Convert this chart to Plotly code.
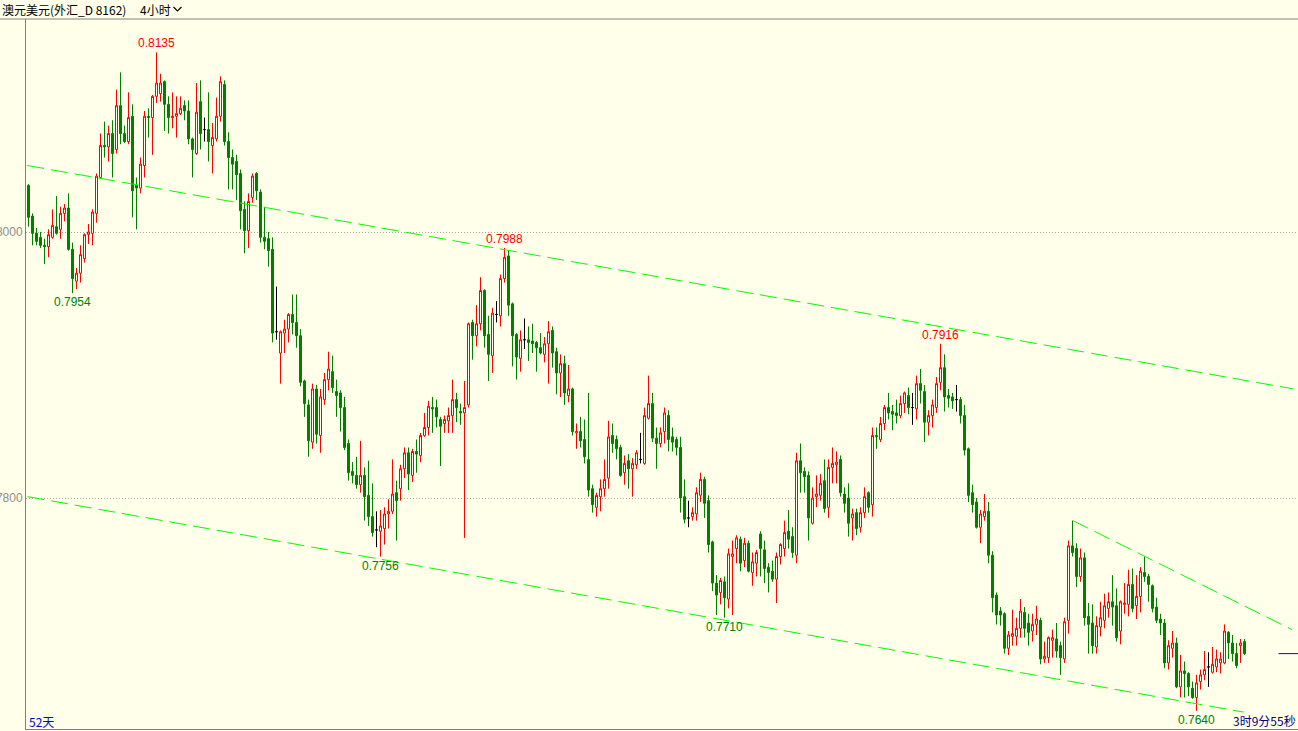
import plotly.graph_objects as go

# ---------------- data (AUD/USD, 4-hour candles) ----------------
opens = [0.8035,0.8012,0.7999,0.7996,0.7990,0.7989,0.7996,0.8004,0.8002,0.8014,
0.8018,0.7987,0.7963,0.7969,0.7980,0.7998,0.7999,0.8014,0.8041,0.8065,
0.8064,0.8074,0.8062,0.8095,0.8074,0.8068,0.8087,0.8035,0.8033,0.8050,
0.8087,0.8086,0.8102,0.8104,0.8113,0.8096,0.8086,0.8087,0.8089,0.8095,
0.8091,0.8070,0.8059,0.8098,0.8077,0.8077,0.8065,0.8070,0.8087,0.8111,
0.8068,0.8056,0.8053,0.8044,0.8017,0.8001,0.8026,0.8044,0.8030,0.7996,
0.7995,0.7987,0.7925,0.7909,0.7924,0.7927,0.7938,0.7932,0.7922,0.7888,
0.7870,0.7842,0.7882,0.7847,0.7874,0.7889,0.7895,0.7880,0.7879,0.7868,
0.7841,0.7820,0.7817,0.7810,0.7817,0.7802,0.7786,0.7776,0.7775,0.7777,
0.7788,0.7790,0.7804,0.7807,0.7822,0.7834,0.7817,0.7835,0.7832,0.7847,
0.7853,0.7868,0.7868,0.7859,0.7856,0.7858,0.7862,0.7874,0.7865,0.7864,
0.7870,0.7932,0.7922,0.7931,0.7956,0.7923,0.7907,0.7938,0.7937,0.7965,
0.7982,0.7946,0.7923,0.7905,0.7919,0.7919,0.7918,0.7917,0.7913,0.7908,
0.7916,0.7926,0.7910,0.7894,0.7901,0.7877,0.7882,0.7849,0.7850,0.7844,
0.7829,0.7807,0.7793,0.7801,0.7807,0.7815,0.7847,0.7844,0.7838,0.7819,
0.7828,0.7822,0.7825,0.7829,0.7826,0.7860,0.7871,0.7845,0.7841,0.7850,
0.7862,0.7846,0.7844,0.7838,0.7801,0.7785,0.7786,0.7788,0.7802,0.7814,
0.7798,0.7767,0.7736,0.7729,0.7737,0.7724,0.7756,0.7762,0.7769,0.7753,
0.7766,0.7744,0.7751,0.7773,0.7761,0.7748,0.7745,0.7739,0.7756,0.7762,
0.7775,0.7771,0.7757,0.7828,0.7820,0.7817,0.7781,0.7801,0.7802,0.7813,
0.7793,0.7823,0.7825,0.7829,0.7803,0.7800,0.7785,0.7789,0.7778,0.7789,
0.7804,0.7795,0.7847,0.7844,0.7856,0.7868,0.7865,0.7864,0.7862,0.7871,
0.7877,0.7868,0.7867,0.7886,0.7880,0.7857,0.7862,0.7868,0.7887,0.7898,
0.7877,0.7876,0.7874,0.7874,0.7862,0.7837,0.7804,0.7797,0.7778,0.7786,
0.7790,0.7757,0.7727,0.7715,0.7713,0.7687,0.7696,0.7696,0.7702,0.7714,
0.7706,0.7700,0.7705,0.7708,0.7679,0.7680,0.7693,0.7694,0.7689,0.7679,
0.7708,0.7764,0.7762,0.7741,0.7755,0.7711,0.7706,0.7688,0.7703,0.7708,
0.7717,0.7722,0.7719,0.7700,0.7720,0.7720,0.7735,0.7719,0.7726,0.7744,
0.7741,0.7734,0.7718,0.7709,0.7706,0.7676,0.7687,0.7691,0.7658,0.7670,
0.7668,0.7657,0.7650,0.7662,0.7667,0.7673,0.7669,0.7673,0.7676,0.7676,
0.7699,0.7691,0.7683,0.7689,0.7692]

highs = [0.8036,0.8014,0.8003,0.8000,0.7995,0.8002,0.8017,0.8027,0.8019,0.8021,
0.8029,0.7992,0.7973,0.7990,0.7999,0.8006,0.8017,0.8044,0.8074,0.8083,
0.8080,0.8084,0.8107,0.8120,0.8080,0.8105,0.8096,0.8041,0.8056,0.8091,
0.8093,0.8103,0.8135,0.8119,0.8114,0.8102,0.8105,0.8102,0.8102,0.8099,
0.8099,0.8071,0.8112,0.8114,0.8086,0.8105,0.8082,0.8101,0.8117,0.8114,
0.8075,0.8062,0.8058,0.8047,0.8023,0.8029,0.8044,0.8045,0.8032,0.8019,
0.8000,0.7996,0.7959,0.7926,0.7934,0.7939,0.7953,0.7953,0.7927,0.7889,
0.7874,0.7886,0.7885,0.7882,0.7894,0.7910,0.7907,0.7889,0.7881,0.7876,
0.7844,0.7827,0.7831,0.7843,0.7823,0.7828,0.7811,0.7790,0.7791,0.7793,
0.7799,0.7829,0.7813,0.7825,0.7838,0.7838,0.7837,0.7844,0.7849,0.7864,
0.7873,0.7876,0.7874,0.7861,0.7862,0.7868,0.7889,0.7879,0.7871,0.7888,
0.7932,0.7934,0.7945,0.7966,0.7957,0.7937,0.7943,0.7948,0.7968,0.7988,
0.7986,0.7947,0.7924,0.7926,0.7935,0.7929,0.7931,0.7918,0.7924,0.7921,
0.7933,0.7929,0.7913,0.7908,0.7907,0.7900,0.7883,0.7856,0.7861,0.7859,
0.7879,0.7810,0.7804,0.7814,0.7829,0.7858,0.7856,0.7847,0.7840,0.7832,
0.7833,0.7830,0.7836,0.7849,0.7868,0.7892,0.7879,0.7853,0.7853,0.7868,
0.7866,0.7853,0.7846,0.7846,0.7814,0.7798,0.7793,0.7808,0.7819,0.7816,
0.7802,0.7768,0.7742,0.7740,0.7741,0.7762,0.7768,0.7772,0.7771,0.7770,
0.7768,0.7759,0.7761,0.7775,0.7768,0.7751,0.7753,0.7759,0.7766,0.7783,
0.7791,0.7778,0.7834,0.7841,0.7823,0.7820,0.7808,0.7817,0.7818,0.7829,
0.7829,0.7838,0.7835,0.7832,0.7808,0.7811,0.7792,0.7792,0.7793,0.7808,
0.7805,0.7853,0.7853,0.7861,0.7870,0.7879,0.7870,0.7874,0.7877,0.7880,
0.7883,0.7879,0.7892,0.7897,0.7885,0.7866,0.7874,0.7891,0.7916,0.7908,
0.7882,0.7879,0.7885,0.7876,0.7870,0.7838,0.7810,0.7800,0.7791,0.7803,
0.7797,0.7760,0.7729,0.7718,0.7714,0.7700,0.7716,0.7710,0.7724,0.7718,
0.7713,0.7713,0.7719,0.7710,0.7692,0.7696,0.7701,0.7706,0.7692,0.7710,
0.7768,0.7783,0.7766,0.7762,0.7759,0.7721,0.7720,0.7711,0.7722,0.7728,
0.7729,0.7742,0.7732,0.7723,0.7736,0.7746,0.7747,0.7742,0.7748,0.7756,
0.7743,0.7735,0.7725,0.7713,0.7709,0.7693,0.7700,0.7695,0.7682,0.7677,
0.7669,0.7662,0.7667,0.7671,0.7685,0.7684,0.7688,0.7686,0.7684,0.7705,
0.7700,0.7697,0.7691,0.7694,0.7694]

lows = [0.8004,0.7990,0.7990,0.7988,0.7976,0.7981,0.7995,0.7998,0.7995,0.8008,
0.7986,0.7954,0.7957,0.7962,0.7977,0.7991,0.7990,0.8007,0.8040,0.8056,
0.8053,0.8041,0.8059,0.8066,0.8067,0.8066,0.8011,0.8002,0.8029,0.8041,
0.8071,0.8058,0.8097,0.8098,0.8076,0.8074,0.8078,0.8071,0.8088,0.8084,
0.8066,0.8041,0.8058,0.8062,0.8068,0.8053,0.8044,0.8068,0.8083,0.8065,
0.8032,0.8032,0.8024,0.8002,0.7984,0.7988,0.8022,0.8024,0.7992,0.7987,
0.7974,0.7917,0.7919,0.7886,0.7909,0.7917,0.7923,0.7913,0.7884,0.7861,
0.7831,0.7837,0.7841,0.7834,0.7870,0.7881,0.7879,0.7861,0.7850,0.7836,
0.7813,0.7811,0.7807,0.7804,0.7783,0.7779,0.7771,0.7763,0.7756,0.7765,
0.7777,0.7788,0.7768,0.7798,0.7815,0.7806,0.7812,0.7819,0.7827,0.7846,
0.7847,0.7849,0.7853,0.7824,0.7849,0.7849,0.7849,0.7857,0.7855,0.7770,
0.7868,0.7904,0.7914,0.7926,0.7913,0.7888,0.7894,0.7932,0.7929,0.7962,
0.7937,0.7899,0.7889,0.7895,0.7912,0.7903,0.7909,0.7895,0.7908,0.7902,
0.7886,0.7898,0.7878,0.7876,0.7870,0.7872,0.7847,0.7837,0.7838,0.7826,
0.7801,0.7789,0.7786,0.7790,0.7801,0.7807,0.7834,0.7829,0.7816,0.7810,
0.7807,0.7801,0.7822,0.7826,0.7825,0.7859,0.7842,0.7822,0.7838,0.7841,
0.7835,0.7835,0.7832,0.7789,0.7781,0.7778,0.7783,0.7783,0.7797,0.7785,
0.7759,0.7730,0.7712,0.7720,0.7710,0.7717,0.7712,0.7751,0.7745,0.7748,
0.7744,0.7734,0.7741,0.7741,0.7736,0.7729,0.7737,0.7721,0.7750,0.7756,
0.7762,0.7755,0.7751,0.7804,0.7804,0.7768,0.7780,0.7793,0.7798,0.7789,
0.7785,0.7811,0.7811,0.7801,0.7789,0.7771,0.7768,0.7772,0.7774,0.7785,
0.7789,0.7786,0.7837,0.7842,0.7851,0.7859,0.7851,0.7856,0.7860,0.7864,
0.7863,0.7855,0.7859,0.7871,0.7842,0.7847,0.7853,0.7864,0.7881,0.7865,
0.7868,0.7867,0.7865,0.7856,0.7832,0.7797,0.7789,0.7777,0.7766,0.7783,
0.7751,0.7714,0.7705,0.7704,0.7683,0.7682,0.7689,0.7689,0.7695,0.7695,
0.7689,0.7692,0.7697,0.7675,0.7676,0.7676,0.7680,0.7680,0.7667,0.7676,
0.7698,0.7756,0.7733,0.7737,0.7704,0.7683,0.7683,0.7683,0.7696,0.7702,
0.7710,0.7704,0.7692,0.7690,0.7713,0.7711,0.7714,0.7709,0.7714,0.7737,
0.7722,0.7714,0.7706,0.7697,0.7672,0.7671,0.7680,0.7657,0.7650,0.7650,
0.7651,0.7649,0.7640,0.7656,0.7663,0.7658,0.7668,0.7669,0.7668,0.7675,
0.7679,0.7677,0.7672,0.7676,0.7682]

closes = [0.8011,0.7999,0.7993,0.7990,0.7989,0.7998,0.8005,0.7999,0.8014,0.8018,
0.7987,0.7965,0.7969,0.7983,0.7998,0.8000,0.8015,0.8042,0.8065,0.8064,
0.8074,0.8059,0.8095,0.8074,0.8068,0.8086,0.8031,0.8033,0.8051,0.8087,
0.8086,0.8102,0.8112,0.8112,0.8096,0.8086,0.8087,0.8089,0.8093,0.8091,
0.8070,0.8062,0.8090,0.8074,0.8077,0.8068,0.8071,0.8087,0.8113,0.8068,
0.8056,0.8051,0.8043,0.8016,0.8001,0.8023,0.8042,0.8031,0.7996,0.7993,
0.7986,0.7924,0.7925,0.7925,0.7927,0.7938,0.7932,0.7922,0.7887,0.7871,
0.7843,0.7882,0.7848,0.7876,0.7889,0.7897,0.7883,0.7877,0.7868,0.7838,
0.7819,0.7817,0.7810,0.7817,0.7801,0.7786,0.7774,0.7776,0.7779,0.7788,
0.7790,0.7803,0.7798,0.7822,0.7834,0.7818,0.7835,0.7833,0.7847,0.7853,
0.7869,0.7867,0.7861,0.7854,0.7859,0.7862,0.7874,0.7868,0.7864,0.7868,
0.7931,0.7922,0.7931,0.7956,0.7922,0.7908,0.7939,0.7938,0.7965,0.7981,
0.7945,0.7922,0.7906,0.7919,0.7919,0.7917,0.7916,0.7913,0.7909,0.7916,
0.7925,0.7909,0.7894,0.7901,0.7879,0.7882,0.7850,0.7850,0.7843,0.7831,
0.7806,0.7795,0.7802,0.7807,0.7814,0.7846,0.7841,0.7837,0.7817,0.7826,
0.7822,0.7826,0.7834,0.7829,0.7862,0.7871,0.7845,0.7841,0.7849,0.7864,
0.7844,0.7842,0.7838,0.7800,0.7784,0.7785,0.7789,0.7804,0.7814,0.7796,
0.7765,0.7736,0.7727,0.7738,0.7725,0.7758,0.7758,0.7770,0.7751,0.7766,
0.7745,0.7752,0.7759,0.7762,0.7747,0.7744,0.7739,0.7756,0.7765,0.7774,
0.7769,0.7759,0.7828,0.7819,0.7816,0.7785,0.7800,0.7803,0.7811,0.7792,
0.7823,0.7826,0.7827,0.7804,0.7796,0.7781,0.7788,0.7777,0.7789,0.7801,
0.7793,0.7847,0.7846,0.7856,0.7868,0.7864,0.7863,0.7862,0.7871,0.7879,
0.7868,0.7868,0.7886,0.7881,0.7857,0.7862,0.7870,0.7886,0.7898,0.7876,
0.7875,0.7873,0.7874,0.7862,0.7836,0.7802,0.7795,0.7778,0.7788,0.7790,
0.7757,0.7725,0.7712,0.7712,0.7687,0.7697,0.7698,0.7702,0.7715,0.7702,
0.7699,0.7705,0.7709,0.7679,0.7681,0.7695,0.7695,0.7685,0.7680,0.7707,
0.7764,0.7759,0.7741,0.7755,0.7710,0.7705,0.7689,0.7704,0.7710,0.7719,
0.7722,0.7718,0.7695,0.7722,0.7721,0.7735,0.7717,0.7726,0.7745,0.7741,
0.7735,0.7717,0.7708,0.7706,0.7676,0.7689,0.7691,0.7658,0.7670,0.7668,
0.7658,0.7650,0.7661,0.7667,0.7671,0.7673,0.7675,0.7679,0.7679,0.7700,
0.7691,0.7683,0.7674,0.7691,0.7683]

# marked extremes (candle index) and drawn trend lines ((index, price) endpoints)
peak_idx = [32, 119, 228]
trough_idx = [11, 88, 174, 292]
trend_lines = [((-0.3, 0.8050), (316.25, 0.7882)),
               ((-0.25, 0.7801), (303.8, 0.7639)),
               ((261.1, 0.7783), (315.9, 0.7701))]
y_ticks = [0.7800, 0.8000]
y_ticktext = ["0.7800", "0.8000"]
title_text = "澳元美元(外汇_D 8162)"
period_text = "4小时"
days_text = "52天"
countdown_text = "3时9分55秒"

# ---------------- styling ----------------
W, H = 1298, 731
ML, MR, MT, MB = 26, 0, 19, 2
PW, PH = W - ML - MR, H - MT - MB
BG = "#FFFFEA"
RED = "#FF0000"
GREEN = "#008000"
AXIS = "#808080"

n = len(opens)
idx = list(range(n))
up = [i for i in idx if closes[i] > opens[i]]
dn = [i for i in idx if closes[i] < opens[i]]
dj = [i for i in idx if closes[i] == opens[i]]


def sub(ix):
    return dict(x=ix,
                open=[opens[i] for i in ix], high=[highs[i] for i in ix],
                low=[lows[i] for i in ix], close=[closes[i] for i in ix])


def style(col, fill):
    return dict(increasing=dict(line=dict(color=col, width=1), fillcolor=fill),
                decreasing=dict(line=dict(color=col, width=1), fillcolor=fill),
                whiskerwidth=0, showlegend=False, hoverinfo="skip")


fig = go.Figure()
fig.add_trace(go.Candlestick(**sub(up), **style(RED, BG)))
fig.add_trace(go.Candlestick(**sub(dn), **style(GREEN, GREEN)))
fig.add_trace(go.Candlestick(**sub(dj), **style("#000000", "#000000")))

for (x0, y0), (x1, y1) in trend_lines:
    fig.add_trace(go.Scatter(x=[x0, x1], y=[y0, y1], mode="lines",
                             line=dict(color="#00FF00", width=1, dash="17px,7px"),
                             showlegend=False, hoverinfo="skip"))

# x / y ranges (4 px per candle, 13300 px per price unit); half-pixel offset for crisp strokes
x_lo = -0.625
x_hi = x_lo + PW / 4.0
y_top = 0.8000 + (232 - MT) / 13300.0
y_bot = y_top - PH / 13300.0

lab_font = dict(family="Liberation Sans, Arial, sans-serif", size=12)
for i in peak_idx:
    fig.add_annotation(x=i, y=highs[i], text=f"{highs[i]:.4f}", showarrow=False,
                       yanchor="bottom", yshift=0, font=dict(color=RED, **lab_font))
for i in trough_idx:
    fig.add_annotation(x=i, y=lows[i], text=f"{lows[i]:.4f}", showarrow=False,
                       yanchor="top", yshift=0, font=dict(color=GREEN, **lab_font))

# current-price marker at the right edge
fig.add_shape(type="line", xref="x", yref="y", x0=n + 7.5, x1=x_hi,
              y0=closes[-1], y1=closes[-1], line=dict(color="#0000FF", width=1))


def px_x(p):
    return (p - ML) / PW


def px_y(p):
    return (H - MB - p) / PH


# header separator line and chevron
fig.add_shape(type="line", xref="paper", yref="paper", x0=px_x(0), x1=1, y0=1, y1=1,
              line=dict(color=AXIS, width=1))
fig.add_shape(type="path", xref="paper", yref="paper",
              path=f"M {px_x(173.5)},{px_y(7)} L {px_x(177.5)},{px_y(11)} L {px_x(181.5)},{px_y(7)}",
              line=dict(color="#000000", width=1.2))

cjk = "Noto Sans CJK SC, sans-serif"
fig.add_annotation(xref="paper", yref="paper", x=px_x(0), y=px_y(9.5), xanchor="left", yanchor="middle",
                   text=title_text, showarrow=False, font=dict(family=cjk, size=12, color="#000000"))
fig.add_annotation(xref="paper", yref="paper", x=px_x(138), y=px_y(9.5), xanchor="left", yanchor="middle",
                   text=period_text, showarrow=False, font=dict(family=cjk, size=12, color="#000000"))
fig.add_annotation(xref="paper", yref="paper", x=px_x(27), y=px_y(721), xanchor="left", yanchor="middle",
                   text=days_text, showarrow=False, font=dict(family=cjk, size=12, color="#0000E0"))
fig.add_annotation(xref="paper", yref="paper", x=px_x(1231), y=px_y(720), xanchor="left", yanchor="middle",
                   text=countdown_text, showarrow=False, font=dict(family=cjk, size=12, color="#000080"))

fig.update_layout(
    template="none",
    width=W, height=H,
    margin=dict(l=ML, r=MR, t=MT, b=MB, pad=0),
    paper_bgcolor=BG, plot_bgcolor=BG,
    showlegend=False,
    hovermode=False,
    boxgap=0.5, boxgroupgap=0,
    xaxis=dict(range=[x_lo, x_hi], showgrid=False, zeroline=False, showticklabels=False,
               ticks="", showline=True, linecolor=AXIS, linewidth=1, automargin=False,
               rangeslider=dict(visible=False), fixedrange=True),
    yaxis=dict(range=[y_bot, y_top], tickvals=y_ticks, ticktext=y_ticktext, ticks="",
               showgrid=True, gridcolor="#A8A8A8", griddash="1px,2px", gridwidth=1,
               zeroline=False, showline=True, linecolor=AXIS, linewidth=1, automargin=False,
               tickfont=dict(family="Liberation Sans, Arial, sans-serif", size=12, color="#8C8C8C"),
               ticklabelstandoff=0, fixedrange=True),
)

fig.write_html("out.html", config={"displayModeBar": False},
               post_script="document.body.style.margin='0';document.body.style.overflow='hidden';")
